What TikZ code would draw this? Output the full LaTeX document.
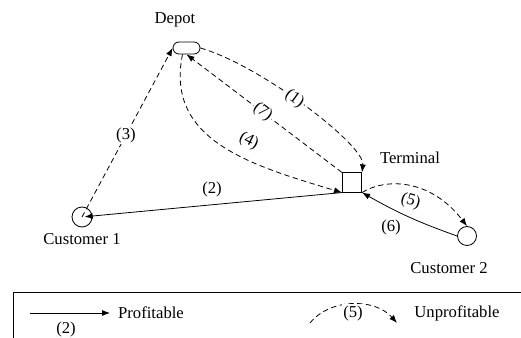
\documentclass[tikz,border=0pt]{standalone}
\usepackage{fontspec}
\setmainfont{Liberation Serif}
\newfontfamily\routefont{Liberation Serif}
\usetikzlibrary{arrows.meta}

\begin{document}
\begin{tikzpicture}[x=0.75pt,y=-0.75pt,line width=0.6pt,
  every node/.style={font=\routefont\fontsize{12.5}{15}\selectfont},
  arr/.style={-{Latex[length=6pt,width=4.5pt]}},
  dsh/.style={dash pattern=on 4pt off 2.6pt},
  lbl/.style={inner sep=1pt},
  site/.style={draw,circle,minimum size=15pt,inner sep=0pt}]

\useasboundingbox (0,0) rectangle (521,338);

% Depot
\node[draw,rounded corners=4.5pt,minimum width=20.25pt,minimum height=9pt,inner sep=0pt] (depot) at (186.5,48) {};
\node (depotlbl) at (175,20) {Depot};

% Terminal
\node[draw,minimum size=14.5pt,inner sep=0pt] (term) at (352,182.5) {};
\node (termlbl) at (410,158) {Terminal};

% Customers
\node[site] (cust1) at (82,217) {};
\node (cust1lbl) at (82,239) {Customer 1};

\node[site,minimum size=14.25pt] (cust2) at (467,236) {};
\node (cust2lbl) at (449,268) {Customer 2};

% Routes
\draw[arr,dsh] (depot.east) .. controls (260,65) and (365,145) .. node[lbl,fill=white,sloped,pos=0.45] {(1)} (term.north east);
\draw[arr,dsh] (term.north west) -- node[lbl,fill=white,sloped,pos=0.51] {(7)} (depot.south);
\draw[arr,dsh] ([xshift=-3pt]depot.south) .. controls (165,140) and (250,165) .. node[lbl,sloped,pos=0.6,above=6pt] {(4)} (term.south west);
\draw[arr,dsh] (cust1.center) -- node[lbl,fill=white,pos=0.485] {(3)} (depot.west);
\draw[arr,shorten >=2pt] (term.south west) -- node[lbl,above=4.5pt] {(2)} (cust1.center);
\draw[arr,dsh] (term.south east) .. controls (385,178) and (430,178) .. node[lbl,sloped,pos=0.55,below=4pt] {(5)} (cust2.north);
\draw[arr] (cust2.west) to[bend left=5] node[lbl,pos=0.7,below=7.5pt] {(6)} (term.south east);

% Legend
\draw (521,292) -- (13,292) -- (13,338);

\coordinate (profA) at (30,313);
\coordinate (profB) at (110,313);
\draw[arr] (profA) -- node[lbl,pos=0.45,below=5.4pt] {(2)} (profB);
\node (proflbl) at (151,313) {Profitable};

\coordinate (unprofA) at (310,323);
\coordinate (unprofB) at (397,323);
\draw[arr,dsh] (unprofA) .. controls (330,298) and (375,298) .. (unprofB);
\node[lbl,fill=white] (unproffive) at (353,313) {(5)};
\node (unproflbl) at (457,313) {Unprofitable};

\end{tikzpicture}
\end{document}
